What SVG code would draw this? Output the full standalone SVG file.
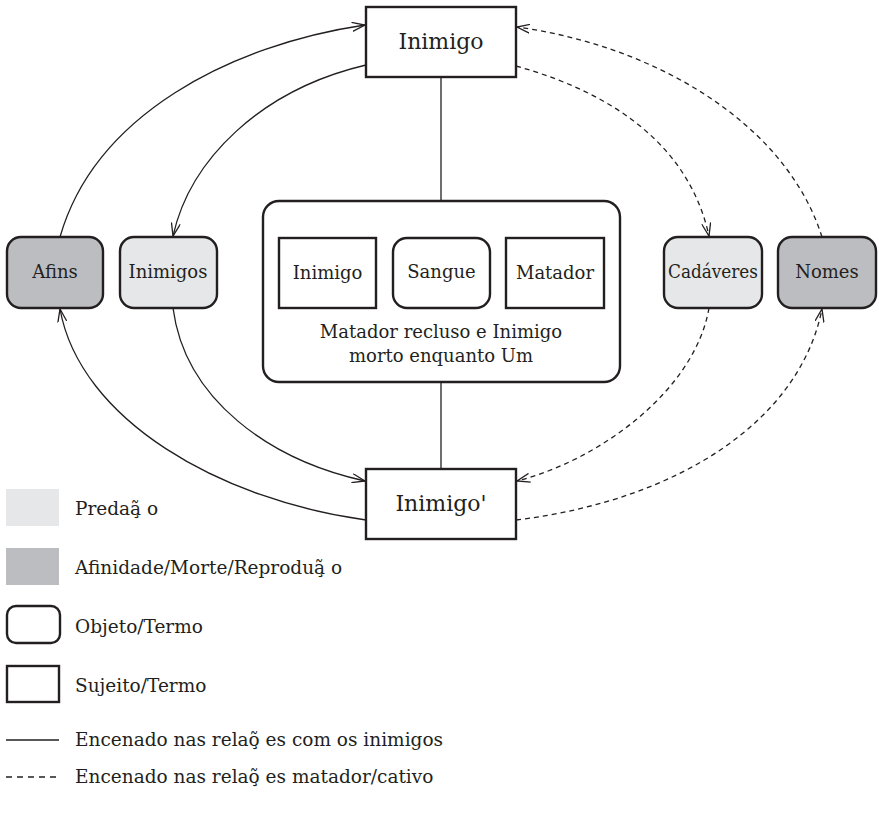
<svg xmlns="http://www.w3.org/2000/svg" width="879" height="813" viewBox="0 0 879 813">
<style>
  text { font-family: "DejaVu Serif", "Liberation Serif", serif; fill: #231f20; }
  .box { fill: #ffffff; stroke: #231f20; stroke-width: 2.4; }
  .light { fill: #e6e7e8; }
  .dark { fill: #bcbdc0; }
  .conn { fill: none; stroke: #231f20; stroke-width: 1.3; }
  .dash { stroke-dasharray: 5 4; }
  .n18 { font-size: 18px; text-anchor: middle; }
  .leg { font-size: 18.5px; }
</style>
<defs>
  <marker id="arr" viewBox="0 0 14 10" refX="13" refY="5" markerWidth="14" markerHeight="10" markerUnits="userSpaceOnUse" orient="auto">
    <path d="M0,0.5 L13,5 L0,9.5" fill="none" stroke="#231f20" stroke-width="1.3" stroke-dasharray="none"/>
  </marker>
</defs>
<rect width="879" height="813" fill="#ffffff"/>

<g id="connectors">
  <line class="conn" x1="441" y1="77" x2="441" y2="201"/>
  <line class="conn" x1="441" y1="382" x2="441" y2="469"/>
  <line class="conn" x1="376" y1="272" x2="393" y2="272"/>
  <line class="conn" x1="490" y1="272" x2="506" y2="272"/>
  <path class="conn" d="M60,237 C95,115 230,45 365,25" marker-end="url(#arr)"/>
  <path class="conn" d="M366,65 C260,90 190,160 173,236" marker-end="url(#arr)"/>
  <path class="conn" d="M173,308 C185,400 270,460 365,481" marker-end="url(#arr)"/>
  <path class="conn" d="M366,520 C220,500 80,420 60,309" marker-end="url(#arr)"/>
  <path class="conn dash" d="M822,237 C785,120 650,45 517,27" marker-end="url(#arr)"/>
  <path class="conn dash" d="M516,66 C620,95 690,150 709,236" marker-end="url(#arr)"/>
  <path class="conn dash" d="M709,308 C695,390 600,460 517,481" marker-end="url(#arr)"/>
  <path class="conn dash" d="M516,520 C680,500 800,420 822,309" marker-end="url(#arr)"/>
</g>

<g id="inimigo-top">
  <rect class="box" x="366" y="7" width="150" height="70"/>
  <text x="441" y="49" font-size="22" text-anchor="middle">Inimigo</text>
</g>
<g id="inimigo-bottom">
  <rect class="box" x="366" y="469" width="150" height="70"/>
  <text x="441" y="511" font-size="22" text-anchor="middle">Inimigo'</text>
</g>
<g id="afins">
  <rect class="box dark" x="7" y="237" width="96" height="71" rx="14"/>
  <text class="n18" x="55" y="278">Afins</text>
</g>
<g id="inimigos">
  <rect class="box light" x="120" y="237" width="97" height="71" rx="14"/>
  <text class="n18" x="168" y="278">Inimigos</text>
</g>
<g id="cadaveres">
  <rect class="box light" x="664" y="237" width="98" height="71" rx="14"/>
  <text class="n18" x="713" y="278" textLength="90" lengthAdjust="spacingAndGlyphs">Cadáveres</text>
</g>
<g id="nomes">
  <rect class="box dark" x="778" y="237" width="98" height="71" rx="14"/>
  <text class="n18" x="827" y="278">Nomes</text>
</g>
<g id="matador-recluso">
  <rect class="box" x="263" y="201" width="357" height="181" rx="16"/>
  <text class="n18" x="441" y="338">Matador recluso e Inimigo</text>
  <text class="n18" x="441" y="362">morto enquanto Um</text>
</g>
<g id="inner-inimigo">
  <rect class="box" x="279" y="238" width="97" height="70"/>
  <text class="n18" x="327.5" y="279">Inimigo</text>
</g>
<g id="sangue">
  <rect class="box" x="393" y="238" width="97" height="70" rx="14"/>
  <text class="n18" x="441.5" y="278">Sangue</text>
</g>
<g id="inner-matador">
  <rect class="box" x="506" y="238" width="98" height="70"/>
  <text class="n18" x="555" y="279">Matador</text>
</g>

<g id="legend">
  <rect x="6" y="489" width="53" height="37" fill="#e6e7e8"/>
  <text class="leg" x="75" y="515">Predaã̧ o</text>
  <rect x="6" y="548" width="53" height="37" fill="#bcbdc0"/>
  <text class="leg" x="75" y="574">Afinidade/Morte/Reproduã̧ o</text>
  <rect class="box" x="7" y="606" width="53" height="37" rx="9"/>
  <text class="leg" x="75" y="633">Objeto/Termo</text>
  <rect class="box" x="7" y="666" width="52" height="36"/>
  <text class="leg" x="75" y="692">Sujeito/Termo</text>
  <line class="conn" x1="6" y1="740" x2="59" y2="740"/>
  <text class="leg" x="75" y="746">Encenado nas relaõ̧ es com os inimigos</text>
  <line class="conn" x1="6" y1="777" x2="59" y2="777" stroke-dasharray="6 5"/>
  <text class="leg" x="75" y="783">Encenado nas relaõ̧ es matador/cativo</text>
</g>
</svg>
